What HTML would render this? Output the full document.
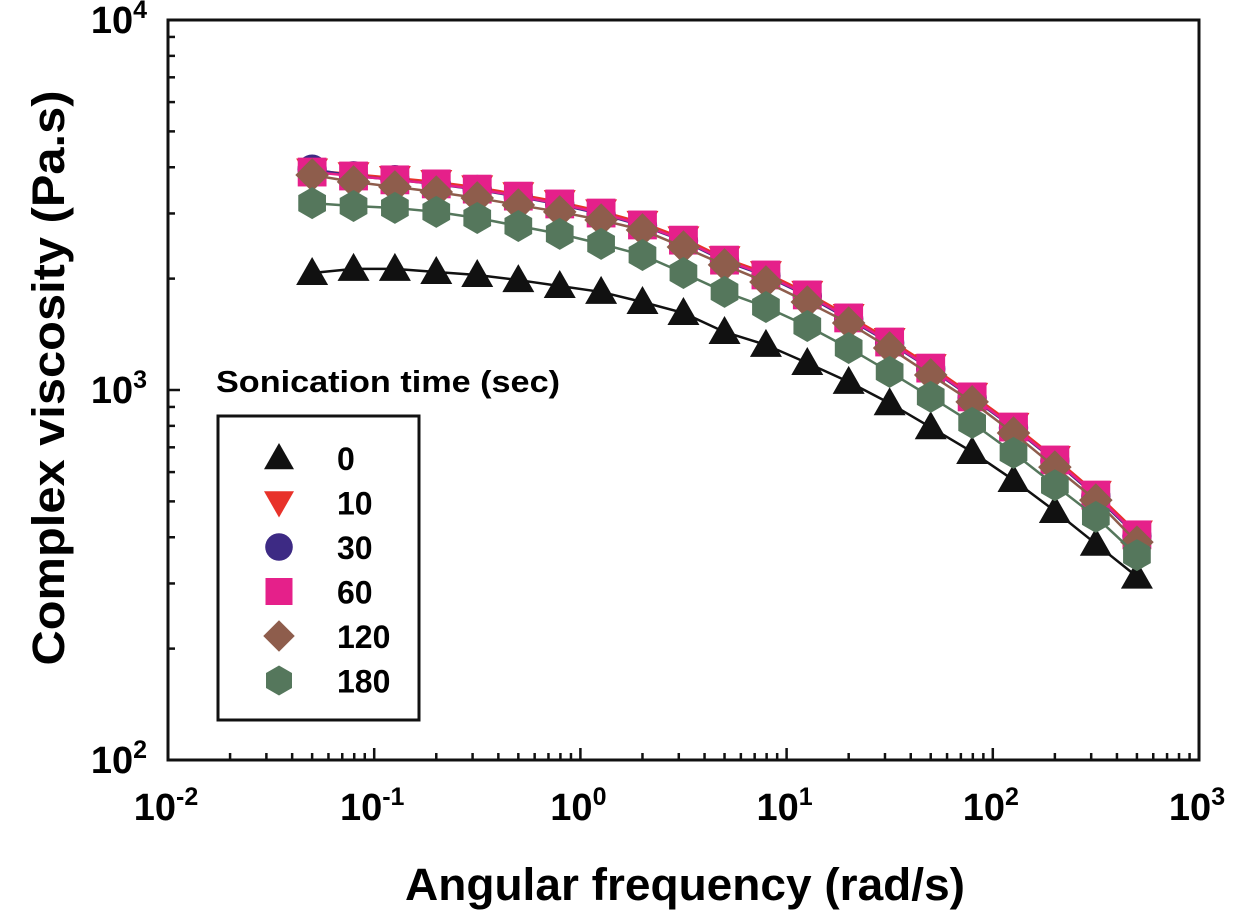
<!DOCTYPE html>
<html><head><meta charset="utf-8"><style>
html,body{margin:0;padding:0;background:#fff;}
svg{display:block;font-family:"Liberation Sans",Arial,sans-serif;font-weight:bold;}
</style></head><body>
<svg id="chart" width="1260" height="918" viewBox="0 0 1260 918" xmlns="http://www.w3.org/2000/svg">
<g id="axes"></g>
<g id="series"></g>
<text x="0" y="0" transform="translate(64,378) rotate(-90)" text-anchor="middle" font-size="45" textLength="575" lengthAdjust="spacingAndGlyphs">Complex viscosity (Pa.s)</text>
<text x="685" y="900" text-anchor="middle" font-size="45" textLength="560" lengthAdjust="spacingAndGlyphs">Angular frequency (rad/s)</text>
<text x="216" y="392" font-size="31" textLength="344" lengthAdjust="spacingAndGlyphs">Sonication time (sec)</text>
<rect x="218" y="416" width="201" height="304" fill="none" stroke="#111" stroke-width="3"/>
<g id="legend"></g>
</svg>
<script>
const freqs = [0.05,0.0794,0.126,0.2,0.316,0.5,0.794,1.26,2,3.16,5,7.94,12.6,20,31.6,50,79.4,126,200,316,500];
const s0   = [2071,2125,2125,2084,2046,1982,1910,1841,1729,1615,1435,1324,1183,1052,921,793,680,571,471,384,313];
const s10  = [3920,3830,3740,3650,3530,3380,3220,3040,2830,2570,2270,2070,1830,1585,1365,1160,970,805,655,527,412];
const s30  = [3950,3790,3700,3600,3480,3330,3170,2990,2780,2530,2230,2035,1795,1555,1340,1140,952,790,643,516,403];
const s60  = [3882,3788,3698,3606,3491,3342,3183,3008,2793,2541,2244,2046,1807,1566,1348,1146,958,794,647,520,406];
const s120 = [3812,3651,3540,3428,3304,3162,3029,2880,2707,2434,2178,1959,1729,1517,1299,1098,929,765,619,504,388];
const s180 = [3199,3143,3105,3029,2917,2775,2642,2483,2317,2071,1841,1676,1489,1299,1119,958,815,676,553,454,358];
const labels = ["0","10","30","60","120","180"];
const xTickExp = [-2,-1,0,1,2,3];
const yTickExp = [2,3,4];

const X0=168, X1=1199, Y0=760, Y1=20;
const xMin=-2, xMax=3, yMin=2, yMax=4;
function xs(v){return X0+(Math.log10(v)-xMin)/(xMax-xMin)*(X1-X0);}
function ys(v){return Y0-(Math.log10(v)-yMin)/(yMax-yMin)*(Y0-Y1);}
const NS="http://www.w3.org/2000/svg";
function mk(tag,attrs,parent){const e=document.createElementNS(NS,tag);for(const k in attrs)e.setAttribute(k,attrs[k]);parent.appendChild(e);return e;}

const axes=document.getElementById('axes');
const frame=mk('rect',{x:X0,y:Y1,width:X1-X0,height:Y0-Y1,fill:'none',stroke:'#111','stroke-width':3},axes);


for(let d=xMin; d<=xMax; d++){
  for(let m=1;m<10;m++){
    if(d===xMax && m>1) break;
    const v=m*Math.pow(10,d); const x=xs(v); const len=(m===1)?12:7;
    const t=mk('line',{x1:x,x2:x,y1:Y0,y2:Y0-len,stroke:'#111','stroke-width':2.5},axes);
    
    
  }
}
for(let d=yMin; d<=yMax; d++){
  for(let m=1;m<10;m++){
    if(d===yMax && m>1) break;
    const v=m*Math.pow(10,d); const y=ys(v); const len=(m===1)?12:7;
    const t=mk('line',{x1:X0,x2:X0+len,y1:y,y2:y,stroke:'#111','stroke-width':2.5},axes);
    
    
  }
}
xTickExp.forEach(e=>{
  const x=xs(Math.pow(10,e));
  const t=mk('text',{x:x-2,y:820,'text-anchor':'middle','font-size':38},axes);
  
  
  t.textContent='10';
  const s=mk('tspan',{dy:-15,'font-size':25},t); s.textContent=String(e);
});
yTickExp.forEach(e=>{
  const y=ys(Math.pow(10,e));
  const t=mk('text',{x:147,y:y+13,'text-anchor':'end','font-size':38},axes);
  
  
  t.textContent='10';
  const s=mk('tspan',{dy:-15,'font-size':25},t); s.textContent=String(e);
});

const colors=['#111111','#e8322a','#3d2a84','#e5208a','#8e5d4c','#55775c'];
const shapes=['tri','tridown','circle','square','diamond','hex'];
const allSeries=[s0,s10,s30,s60,s120,s180];
function marker(shape,cx,cy,col,parent,r){
  r=r||16; let e;
  if(shape==='tri') e=mk('polygon',{points:`${cx},${cy-r} ${cx+r},${cy+r*0.75} ${cx-r},${cy+r*0.75}`,fill:col},parent);
  else if(shape==='tridown') e=mk('polygon',{points:`${cx-r},${cy-r*0.75} ${cx+r},${cy-r*0.75} ${cx},${cy+r}`,fill:col},parent);
  else if(shape==='circle') e=mk('circle',{cx:cx,cy:cy,r:r*0.92,fill:col},parent);
  else if(shape==='square') e=mk('rect',{x:cx-r*0.9,y:cy-r*0.9,width:r*1.8,height:r*1.8,fill:col},parent);
  else if(shape==='diamond') e=mk('polygon',{points:`${cx},${cy-r*1.05} ${cx+r*1.05},${cy} ${cx},${cy+r*1.05} ${cx-r*1.05},${cy}`,fill:col},parent);
  else { const p=[]; for(let i=0;i<6;i++){const a=Math.PI/6+i*Math.PI/3;p.push((cx+r*Math.cos(a))+','+(cy+r*Math.sin(a)));} e=mk('polygon',{points:p.join(' '),fill:col},parent); }
  return e;
}
const sg=document.getElementById('series');
allSeries.forEach((vals,i)=>{
  const g=mk('g',{},sg);
  
  
  const pts=vals.map((v,j)=>xs(freqs[j])+','+ys(v)).join(' ');
  const ln=mk('polyline',{points:pts,fill:'none',stroke:colors[i],'stroke-width':2.5},g);
  
  
  vals.forEach((v,j)=>{
    const m=marker(shapes[i],xs(freqs[j]),ys(v),colors[i],g,16);
    
    
  });
});
const lg=document.getElementById('legend');
labels.forEach((l,i)=>{
  const y=458+i*44.5;
  const m=marker(shapes[i],279,y,colors[i],lg,15);
  
  
  const t=mk('text',{x:337,y:y+12,'font-size':32},lg);
  
  
  t.textContent=l;
});
</script>
</body></html>
